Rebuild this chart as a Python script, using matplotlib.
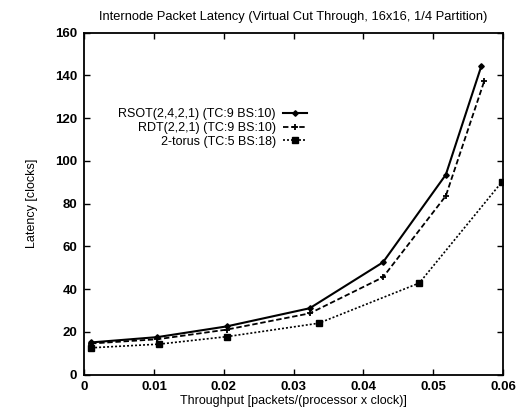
import matplotlib
matplotlib.use('Agg')
import matplotlib.pyplot as plt
import numpy as np

plt.rcParams['font.family'] = ['Liberation Sans', 'DejaVu Sans']

# throughput (packets/(processor x clock)) and latency (clocks)
rsot_x = [0.001, 0.0105, 0.0204, 0.0323, 0.0428, 0.0518, 0.0569]
rsot_y = [15.0, 17.5, 22.5, 31.0, 52.5, 93.5, 144.5]
rdt_x = [0.001, 0.0105, 0.0204, 0.0323, 0.0428, 0.0518, 0.0573]
rdt_y = [14.5, 16.5, 21.0, 28.6, 45.5, 83.6, 137.3]
torus_x = [0.001, 0.0107, 0.0204, 0.0336, 0.0480, 0.0598]
torus_y = [12.5, 14.2, 17.7, 24.0, 42.8, 90.0]

labels = ['RSOT(2,4,2,1) (TC:9 BS:10)', 'RDT(2,2,1) (TC:9 BS:10)', '2-torus (TC:5 BS:18)']

fig = plt.figure(figsize=(5.16, 4.12), dpi=100)
ax = fig.add_axes([0.163, 0.091, 0.812, 0.830])

ax.plot(rsot_x, rsot_y, color='black', lw=1.5, ls='-', marker='D', ms=2.8, label=labels[0])
ax.plot(rdt_x, rdt_y, color='black', lw=1.3, ls=(0, (3, 1.5)), marker='+', ms=4.5, mew=1.3,
        label=labels[1])
ax.plot(torus_x, torus_y, color='black', lw=1.2, ls=(0, (1.2, 1.2)), marker='s', ms=4,
        label=labels[2])

ax.set_xlim(0, 0.06)
ax.set_ylim(0, 160)
ax.set_xticks(np.arange(0, 0.061, 0.01), ['0', '0.01', '0.02', '0.03', '0.04', '0.05', '0.06'])
ax.set_yticks(np.arange(0, 161, 20))
ax.tick_params(direction='in', top=True, right=True, length=4, width=1, labelsize=9.5, pad=5)
for lab in ax.get_xticklabels() + ax.get_yticklabels():
    lab.set_fontweight('bold')
for sp in ax.spines.values():
    sp.set_linewidth(1.3)

ax.set_title('Internode Packet Latency (Virtual Cut Through, 16x16, 1/4 Partition)',
             fontsize=9.3, pad=9)
ax.set_xlabel('Throughput [packets/(processor x clock)]', fontsize=9, labelpad=1)
ax.set_ylabel('Latency [clocks]', fontsize=9, labelpad=12)

ax.legend(loc='center right', bbox_to_anchor=(0.532, 0.721), frameon=False, markerfirst=False,
          fontsize=9, handlelength=1.9, handletextpad=0.6, labelspacing=0.15,
          borderaxespad=0, borderpad=0)

fig.savefig('out.png', dpi=100)
